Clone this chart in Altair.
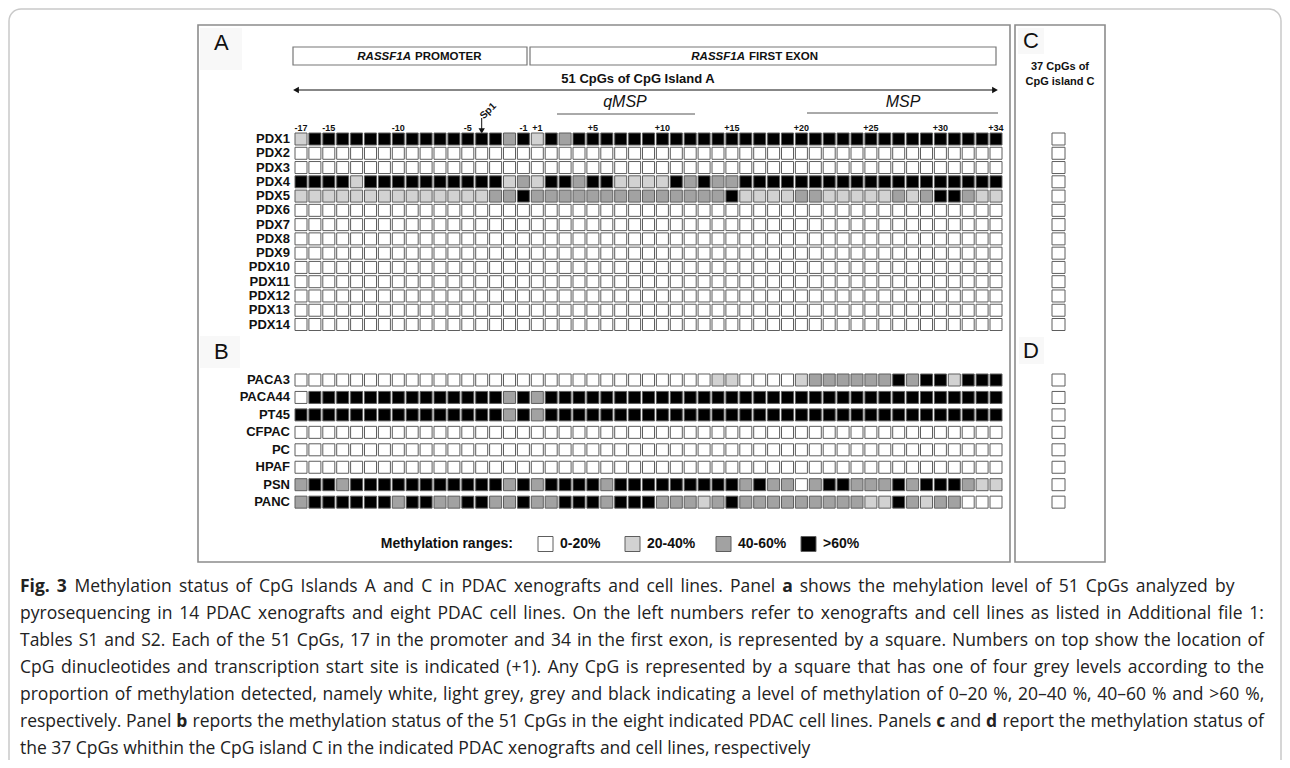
import altair as alt
import pandas as pd

# ---------------- data ----------------
cpg_sites = ["-17", "-16", "-15", "-14", "-13", "-12", "-11", "-10", "-9", "-8", "-7", "-6",
             "-5", "-4", "-3", "-2", "-1",
             "+1", "+2", "+3", "+4", "+5", "+6", "+7", "+8", "+9", "+10", "+11", "+12",
             "+13", "+14", "+15", "+16", "+17", "+18", "+19", "+20", "+21", "+22", "+23",
             "+24", "+25", "+26", "+27", "+28", "+29", "+30", "+31", "+32", "+33", "+34"]
tick_labels = ["-17", "-15", "-10", "-5", "-1", "+1", "+5", "+10", "+15", "+20", "+25", "+30", "+34"]

xenografts = ["PDX1", "PDX2", "PDX3", "PDX4", "PDX5", "PDX6", "PDX7", "PDX8", "PDX9",
              "PDX10", "PDX11", "PDX12", "PDX13", "PDX14"]
cell_lines = ["PACA3", "PACA44", "PT45", "CFPAC", "PC", "HPAF", "PSN", "PANC"]

# level codes: W = 0-20%, L = 20-40%, M = 40-60%, B = >60%
# each row = 17 promoter CpGs + 34 first-exon CpGs
pdx_levels = [
    "LBBBBBBBBBBBBBBMB" + "LBMBBBBBBBBBBBBBBBBBBBBBBBBBBBBBBB",
    "WWWWWWWWWWWWWWWWW" + "WWWWWWWWWWWWWWWWWWWWWWWWWWWWWWWWWW",
    "WWWWWWWWWWWWWWWWW" + "WWWWWWWWWWWWWWWWWWWWWWWWWWWWWWWWWW",
    "BBBBLBBBBBBBBBBLM" + "LBBMBBLLLLBMBMMBBBBBBBBBBBBBBBBBBB",
    "LLLLLLLLLLLLLLMMB" + "MMMMMMMMMMMMMMBLLLLMMLLLLLMLMBBMLL",
    "WWWWWWWWWWWWWWWWW" + "WWWWWWWWWWWWWWWWWWWWWWWWWWWWWWWWWW",
    "WWWWWWWWWWWWWWWWW" + "WWWWWWWWWWWWWWWWWWWWWWWWWWWWWWWWWW",
    "WWWWWWWWWWWWWWWWW" + "WWWWWWWWWWWWWWWWWWWWWWWWWWWWWWWWWW",
    "WWWWWWWWWWWWWWWWW" + "WWWWWWWWWWWWWWWWWWWWWWWWWWWWWWWWWW",
    "WWWWWWWWWWWWWWWWW" + "WWWWWWWWWWWWWWWWWWWWWWWWWWWWWWWWWW",
    "WWWWWWWWWWWWWWWWW" + "WWWWWWWWWWWWWWWWWWWWWWWWWWWWWWWWWW",
    "WWWWWWWWWWWWWWWWW" + "WWWWWWWWWWWWWWWWWWWWWWWWWWWWWWWWWW",
    "WWWWWWWWWWWWWWWWW" + "WWWWWWWWWWWWWWWWWWWWWWWWWWWWWWWWWW",
    "WWWWWWWWWWWWWWWWW" + "WWWWWWWWWWWWWWWWWWWWWWWWWWWWWWWWWW",
]
cell_levels = [
    "WWWWWWWWWWWWWWWWW" + "WWWWWWWWWWWWWLLWWWWLMMMMMMBMBBLBBB",
    "WBBBBBBBBBBBBBBMB" + "MBBBBBBBBBBBBBBBBBBBBBBBBBBBBBBBBB",
    "BBBBBBBBBBBBBBBMB" + "MBBBBBBBBBBBBBBBBBBBBBBBBBBBBBBBBB",
    "WWWWWWWWWWWWWWWWW" + "WWWWWWWWWWWWWWWWWWWWWWWWWWWWWWWWWW",
    "WWWWWWWWWWWWWWWWW" + "WWWWWWWWWWWWWWWWWWWWWWWWWWWWWWWWWW",
    "WWWWWWWWWWWWWWWWW" + "WWWWWWWWWWWWWWWWWWWWWWWWWWWWWWWWWW",
    "MBBMBBBBBBBBBBBMB" + "MBBBBMBBBBBBBBBMBMMWMBBMMMBMBBBMLL",
    "MBBBBBBMBBMMBBMMB" + "MMBBBMBBBMMMLMBMMMMMMMMMLLBMLMMWWW",
]
island_c_pdx = ["W"] * 14        # 37 CpGs of island C, xenografts
island_c_lines = ["W"] * 8       # 37 CpGs of island C, cell lines

level_codes = ["W", "L", "M", "B"]
level_names = ["0-20%", "20-40%", "40-60%", ">60%"]
level_colors = ["#ffffff", "#d2d2d2", "#a2a2a2", "#000000"]

caption_lines = [
    [("Fig. 3", True), (" Methylation status of CpG Islands A and C in PDAC xenografts and cell lines. Panel ", False),
     ("a", True), (" shows the mehylation level of 51 CpGs analyzed by", False)],
    [("pyrosequencing in 14 PDAC xenografts and eight PDAC cell lines. On the left numbers refer to xenografts and cell lines as listed in Additional file 1:", False)],
    [("Tables S1 and S2. Each of the 51 CpGs, 17 in the promoter and 34 in the first exon, is represented by a square. Numbers on top show the location of", False)],
    [("CpG dinucleotides and transcription start site is indicated (+1). Any CpG is represented by a square that has one of four grey levels according to the", False)],
    [("proportion of methylation detected, namely white, light grey, grey and black indicating a level of methylation of 0\u201320 %, 20\u201340 %, 40\u201360 % and >60 %,", False)],
    [("respectively. Panel ", False), ("b", True),
     (" reports the methylation status of the 51 CpGs in the eight indicated PDAC cell lines. Panels ", False),
     ("c", True), (" and ", False), ("d", True), (" report the methylation status of", False)],
    [("the 37 CpGs whithin the CpG island C in the indicated PDAC xenografts and cell lines, respectively", False)],
]

for s in pdx_levels + cell_levels:
    assert len(s) == len(cpg_sites)

# ---------------- layout (page pixels) ----------------
W, H = 1274, 752
OFF = 8
COL0, PITCH, CELL = 301.0, 13.9, 12.0
PDX_Y0, PDX_STEP = 139.0, 14.27
CL_Y0, CL_STEP = 380.0, 17.45
C_X = 1058.5


def cx(px):
    return (px - COL0) / PITCH


XS = alt.Scale(domain=[cx(OFF), cx(OFF + W)], nice=False, zero=False)
YS = alt.Scale(domain=[OFF, OFF + H], nice=False, zero=False, reverse=True)


def X(f):
    return alt.X(f"{f}:Q", scale=XS, axis=None)


def Y(f):
    return alt.Y(f"{f}:Q", scale=YS, axis=None)


def texts(items, **kw):
    df = pd.DataFrame(items)
    df["x"] = df["x"].map(cx)
    return alt.Chart(df).mark_text(**kw).encode(x=X("x"), y=Y("y"), text="t:N")


def boxes(items, **kw):
    df = pd.DataFrame(items)
    df["x"] = df["x"].map(cx)
    df["x2"] = df["x2"].map(cx)
    return alt.Chart(df).mark_rect(**kw).encode(x=X("x"), x2=alt.X2("x2"), y=Y("y"), y2=alt.Y2("y2"))


def hrules(items, **kw):
    df = pd.DataFrame(items)
    df["x"] = df["x"].map(cx)
    df["x2"] = df["x2"].map(cx)
    return alt.Chart(df).mark_rule(**kw).encode(x=X("x"), x2=alt.X2("x2"), y=Y("y"))


color_enc = alt.Color("lvl:N", scale=alt.Scale(domain=level_codes, range=level_colors), legend=None)

# ---------------- heatmap cells ----------------
recs = []
for k, s in enumerate(pdx_levels):
    for i, c in enumerate(s):
        recs.append({"sample": xenografts[k], "col": i, "y": PDX_Y0 + PDX_STEP * k, "lvl": c})
for k, s in enumerate(cell_levels):
    for i, c in enumerate(s):
        recs.append({"sample": cell_lines[k], "col": i, "y": CL_Y0 + CL_STEP * k, "lvl": c})
cells_df = pd.DataFrame(recs)
half = CELL / 2 / PITCH
cells = alt.Chart(cells_df).transform_calculate(
    xa=f"datum.col - {half}", xb=f"datum.col + {half}",
    ya=f"datum.y - {CELL / 2}", yb=f"datum.y + {CELL / 2}"
).mark_rect(stroke="#5e5e5e", strokeWidth=1).encode(
    x=X("xa"), x2=alt.X2("xb"), y=Y("ya"), y2=alt.Y2("yb"), color=color_enc
)

crecs = []
for k, c in enumerate(island_c_pdx):
    crecs.append({"y": PDX_Y0 + PDX_STEP * k, "lvl": c})
for k, c in enumerate(island_c_lines):
    crecs.append({"y": CL_Y0 + CL_STEP * k, "lvl": c})
cdf = pd.DataFrame(crecs)
cdf["xa"] = cx(C_X - 6.5)
cdf["xb"] = cx(C_X + 6.5)
csq = alt.Chart(cdf).transform_calculate(
    ya="datum.y - 6", yb="datum.y + 6"
).mark_rect(stroke="#5e5e5e", strokeWidth=1).encode(
    x=X("xa"), x2=alt.X2("xb"), y=Y("ya"), y2=alt.Y2("yb"), color=color_enc
)

# ---------------- labels ----------------
row_labels = texts(
    [{"x": 290, "y": PDX_Y0 + PDX_STEP * k, "t": n} for k, n in enumerate(xenografts)]
    + [{"x": 290, "y": CL_Y0 + CL_STEP * k, "t": n} for k, n in enumerate(cell_lines)],
    align="right", baseline="middle", font="Liberation Sans", fontWeight="bold", fontSize=13, color="#111")

tick_df = pd.DataFrame({"t": tick_labels})
tick_df["col"] = [cpg_sites.index(t) for t in tick_labels]
tick_df["y"] = 127.5
ticks = alt.Chart(tick_df).mark_text(
    baseline="middle", font="Liberation Sans", fontWeight="bold", fontSize=9, color="#111"
).encode(x=X("col"), y=Y("y"), text="t:N")

letter_bg = boxes(
    [{"x": 200, "x2": 242, "y": 28, "y2": 70}, {"x": 200, "x2": 240, "y": 336, "y2": 368},
     {"x": 1018, "x2": 1044, "y": 28, "y2": 54}, {"x": 1019, "x2": 1044, "y": 337, "y2": 364}],
    fill="#f8f8f8", strokeWidth=0)

panel_letters = texts(
    [{"x": 214, "y": 43, "t": "A"}, {"x": 214, "y": 352, "t": "B"},
     {"x": 1023, "y": 41, "t": "C"}, {"x": 1023, "y": 351, "t": "D"}],
    align="left", baseline="middle", font="Liberation Sans", fontSize=22, color="#111")

frames = boxes(
    [{"x": 198, "x2": 1010, "y": 25, "y2": 562}, {"x": 1015, "x2": 1105, "y": 25, "y2": 562}],
    fillOpacity=0, stroke="#8c8c8c", strokeWidth=1.6)

outer = boxes([{"x": 9, "x2": 1281, "y": 9, "y2": 800}],
              fillOpacity=0, stroke="#c9c9c9", strokeWidth=1.5, cornerRadius=12)

region_boxes = boxes(
    [{"x": 293, "x2": 527, "y": 47, "y2": 65}, {"x": 530, "x2": 996, "y": 47, "y2": 65}],
    fillOpacity=0, stroke="#777777", strokeWidth=1.2)

region_it = texts([{"x": 411, "y": 56.5, "t": "RASSF1A"}, {"x": 745, "y": 56.5, "t": "RASSF1A"}],
                  align="right", baseline="middle", font="Liberation Sans", fontWeight="bold",
                  fontStyle="italic", fontSize=11.5, color="#111")
region_tx = texts([{"x": 415, "y": 56.5, "t": "PROMOTER"}, {"x": 749, "y": 56.5, "t": "FIRST EXON"}],
                  align="left", baseline="middle", font="Liberation Sans", fontWeight="bold",
                  fontSize=11.5, color="#111")

island_title = texts([{"x": 638, "y": 79, "t": "51 CpGs of CpG Island A"}],
                     align="center", baseline="middle", font="Liberation Sans", fontWeight="bold",
                     fontSize=13, color="#111")

arrow_line = hrules([{"x": 298, "x2": 993, "y": 90}], color="#111", strokeWidth=1.1)
arrow_heads_df = pd.DataFrame({"x": [cx(296), cx(995)], "y": [90, 90], "s": ["triangle-left", "triangle-right"]})
arrow_heads = alt.Chart(arrow_heads_df).mark_point(filled=True, size=45, color="#111", opacity=1).encode(
    x=X("x"), y=Y("y"),
    shape=alt.Shape("s:N", scale=alt.Scale(domain=["triangle-left", "triangle-right"],
                                           range=["triangle-left", "triangle-right"]), legend=None))

pcr_lines = hrules([{"x": 557, "x2": 695, "y": 114}, {"x": 807, "x2": 998, "y": 113}],
                   color="#555", strokeWidth=1)
pcr_text = texts([{"x": 625, "y": 102, "t": "qMSP"}, {"x": 903, "y": 102, "t": "MSP"}],
                 align="center", baseline="middle", font="Liberation Sans", fontStyle="italic",
                 fontSize=16, color="#111")

sp1_col = cpg_sites.index("-4")
sp1_df = pd.DataFrame({"x": [sp1_col], "y": [118], "y2": [129]})
sp1_rule = alt.Chart(sp1_df).mark_rule(color="#111", strokeWidth=1).encode(x=X("x"), y=Y("y"), y2=alt.Y2("y2"))
sp1_head = alt.Chart(pd.DataFrame({"x": [sp1_col], "y": [131]})).mark_point(
    shape="triangle-down", filled=True, size=40, color="#111", opacity=1).encode(x=X("x"), y=Y("y"))
sp1_text = texts([{"x": 488, "y": 111, "t": "Sp1"}], align="center", baseline="middle",
                 font="Liberation Sans", fontWeight="bold", fontSize=10, angle=315, color="#111")

c_title = texts([{"x": 1060, "y": 67, "t": "37 CpGs of"}, {"x": 1060, "y": 82, "t": "CpG island C"}],
                align="center", baseline="middle", font="Liberation Sans", fontWeight="bold",
                fontSize=11, color="#111")

# ---------------- legend ----------------
leg_x = [545.5, 632.5, 723.5, 808.5]
leg_df = pd.DataFrame({"lvl": level_codes, "xc": leg_x})
leg_df["xa"] = leg_df["xc"].map(lambda v: cx(v - 7.5))
leg_df["xb"] = leg_df["xc"].map(lambda v: cx(v + 7.5))
leg_df["ya"] = 536.5
leg_df["yb"] = 551.5
leg_sq = alt.Chart(leg_df).mark_rect(stroke="#5e5e5e", strokeWidth=1).encode(
    x=X("xa"), x2=alt.X2("xb"), y=Y("ya"), y2=alt.Y2("yb"), color=color_enc)
leg_title = texts([{"x": 513, "y": 544, "t": "Methylation ranges:"}],
                  align="right", baseline="middle", font="Liberation Sans", fontWeight="bold",
                  fontSize=14, color="#111")
leg_txt = texts([{"x": v + 14.5, "y": 544, "t": n} for v, n in zip(leg_x, level_names)],
                align="left", baseline="middle", font="Liberation Sans", fontWeight="bold",
                fontSize=14, color="#111")

# ---------------- caption: words placed with approximate Open Sans widths ----------------
REG = {' ': 532, 'a': 1139, 'b': 1255, 'c': 975, 'd': 1255, 'e': 1149, 'f': 694, 'g': 1122, 'h': 1257,
       'i': 518, 'j': 518, 'k': 1075, 'l': 518, 'm': 1905, 'n': 1257, 'o': 1237, 'p': 1255, 'q': 1255,
       'r': 836, 's': 977, 't': 723, 'u': 1257, 'v': 1026, 'w': 1593, 'x': 1073, 'y': 1028, 'z': 977,
       'A': 1296, 'B': 1327, 'C': 1292, 'D': 1493, 'E': 1139, 'F': 1057, 'G': 1491, 'H': 1511, 'I': 571,
       'J': 547, 'K': 1257, 'L': 1063, 'M': 1849, 'N': 1544, 'O': 1595, 'P': 1233, 'Q': 1595, 'R': 1266,
       'S': 1124, 'T': 1134, 'U': 1491, 'V': 1229, 'W': 1886, 'X': 1192, 'Y': 1167, 'Z': 1145,
       '.': 545, ',': 500, ':': 545, '(': 596, ')': 596, '+': 1171, '%': 1696, '\u2013': 1024, '>': 1171,
       '-': 659}


def text_w(t, size, bold=False):
    tot = 0
    for ch in t:
        tot += REG.get(ch, 1171) * (1.07 if bold else 1.0)
    return tot * size / 2048


CAP_SIZE = 17.5
CAP_X0, CAP_X1, CAP_Y0, CAP_STEP = 20, 1264, 587, 27
MAX_EXTRA = 2.5
cap_norm, cap_bold = [], []
for li, segs in enumerate(caption_lines):
    words = []
    for t, b in segs:
        for wd in t.split(" "):
            if wd:
                words.append((wd, b))
    sp = text_w(" ", CAP_SIZE)
    natural = sum(text_w(wd, CAP_SIZE, b) for wd, b in words) + sp * (len(words) - 1)
    last = li == len(caption_lines) - 1
    extra = 0 if last else min(MAX_EXTRA, max(0.0, (CAP_X1 - CAP_X0 - natural) / (len(words) - 1)))
    xx = CAP_X0
    yy = CAP_Y0 + CAP_STEP * li
    for wd, b in words:
        (cap_bold if b else cap_norm).append({"x": xx, "y": yy, "t": wd})
        xx += text_w(wd, CAP_SIZE, b) + sp + extra
cap_n = texts(cap_norm, align="left", baseline="middle", font="Open Sans", fontSize=CAP_SIZE, color="#222")
cap_b = texts(cap_bold, align="left", baseline="middle", font="Open Sans", fontWeight="bold",
              fontSize=CAP_SIZE, color="#222")

chart = alt.layer(
    outer, letter_bg, frames, region_boxes, region_it, region_tx, island_title, arrow_line, arrow_heads,
    pcr_lines, pcr_text, sp1_rule, sp1_head, sp1_text, ticks, row_labels, cells, csq,
    panel_letters, c_title, leg_sq, leg_title, leg_txt, cap_n, cap_b
).properties(
    width=W, height=H, padding=0, autosize=alt.AutoSizeParams(type="none")
).configure_view(stroke=None)

chart.save("out.html", embed_options={"renderer": "svg", "actions": False})
